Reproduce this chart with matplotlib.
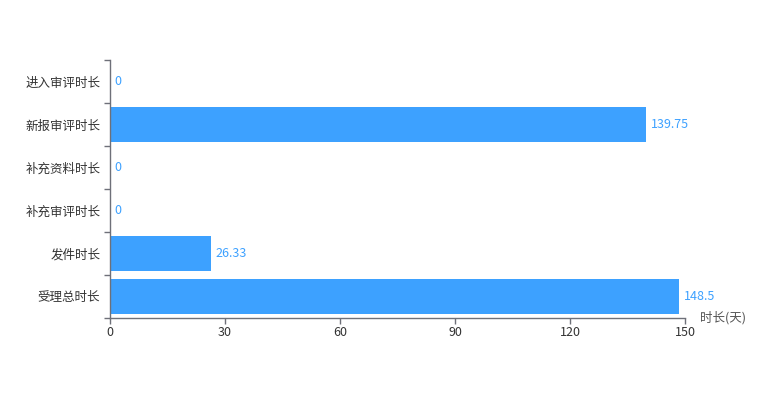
import matplotlib.pyplot as plt
import numpy as np

plt.rcParams['font.family'] = ['Noto Sans CJK SC', 'DejaVu Sans']

categories = ['进入审评时长', '新报审评时长', '补充资料时长', '补充审评时长', '发件时长', '受理总时长']
values = [0, 139.75, 0, 0, 26.33, 148.5]
value_labels = ['0', '139.75', '0', '0', '26.33', '148.5']
x_ticks = [0, 30, 60, 90, 120, 150]

BAR_COLOR = '#3DA1FF'
AXIS_COLOR = '#6E7079'
TEXT_COLOR = '#333333'

fig = plt.figure(figsize=(7.61, 4.0), dpi=100)
ax = fig.add_axes([110 / 761, 1 - 318 / 400, 575 / 761, 258 / 400])

y = np.arange(len(categories))
ax.barh(y, values, height=0.8, color=BAR_COLOR)
ax.set_ylim(len(categories) - 0.5, -0.5)
ax.set_xlim(0, 150)

for yi, v, lab in zip(y, values, value_labels):
    ax.annotate(lab, xy=(v, yi), xytext=(3.5, 0), textcoords='offset points',
                va='center', ha='left', color=BAR_COLOR, fontsize=9)

ax.set_yticks(y)
ax.set_yticklabels(categories, color=TEXT_COLOR, fontsize=9)
ax.set_yticks(np.arange(-0.5, len(categories)), minor=True)
ax.tick_params(axis='y', which='major', length=0, pad=7)
ax.tick_params(axis='y', which='minor', length=4, color=AXIS_COLOR, width=1)

ax.set_xticks(x_ticks)
ax.set_xticklabels([str(t) for t in x_ticks], color=TEXT_COLOR, fontsize=9)
ax.tick_params(axis='x', length=4, color=AXIS_COLOR, width=1, pad=2)

for side in ['top', 'right']:
    ax.spines[side].set_visible(False)
for side in ['left', 'bottom']:
    ax.spines[side].set_color(AXIS_COLOR)
    ax.spines[side].set_linewidth(1)

ax.annotate('时长(天)', xy=(1, 0), xycoords='axes fraction', xytext=(11, 0),
            textcoords='offset points', ha='left', va='center',
            color='#555555', fontsize=9)

fig.savefig('out.png', dpi=100, facecolor='white')
